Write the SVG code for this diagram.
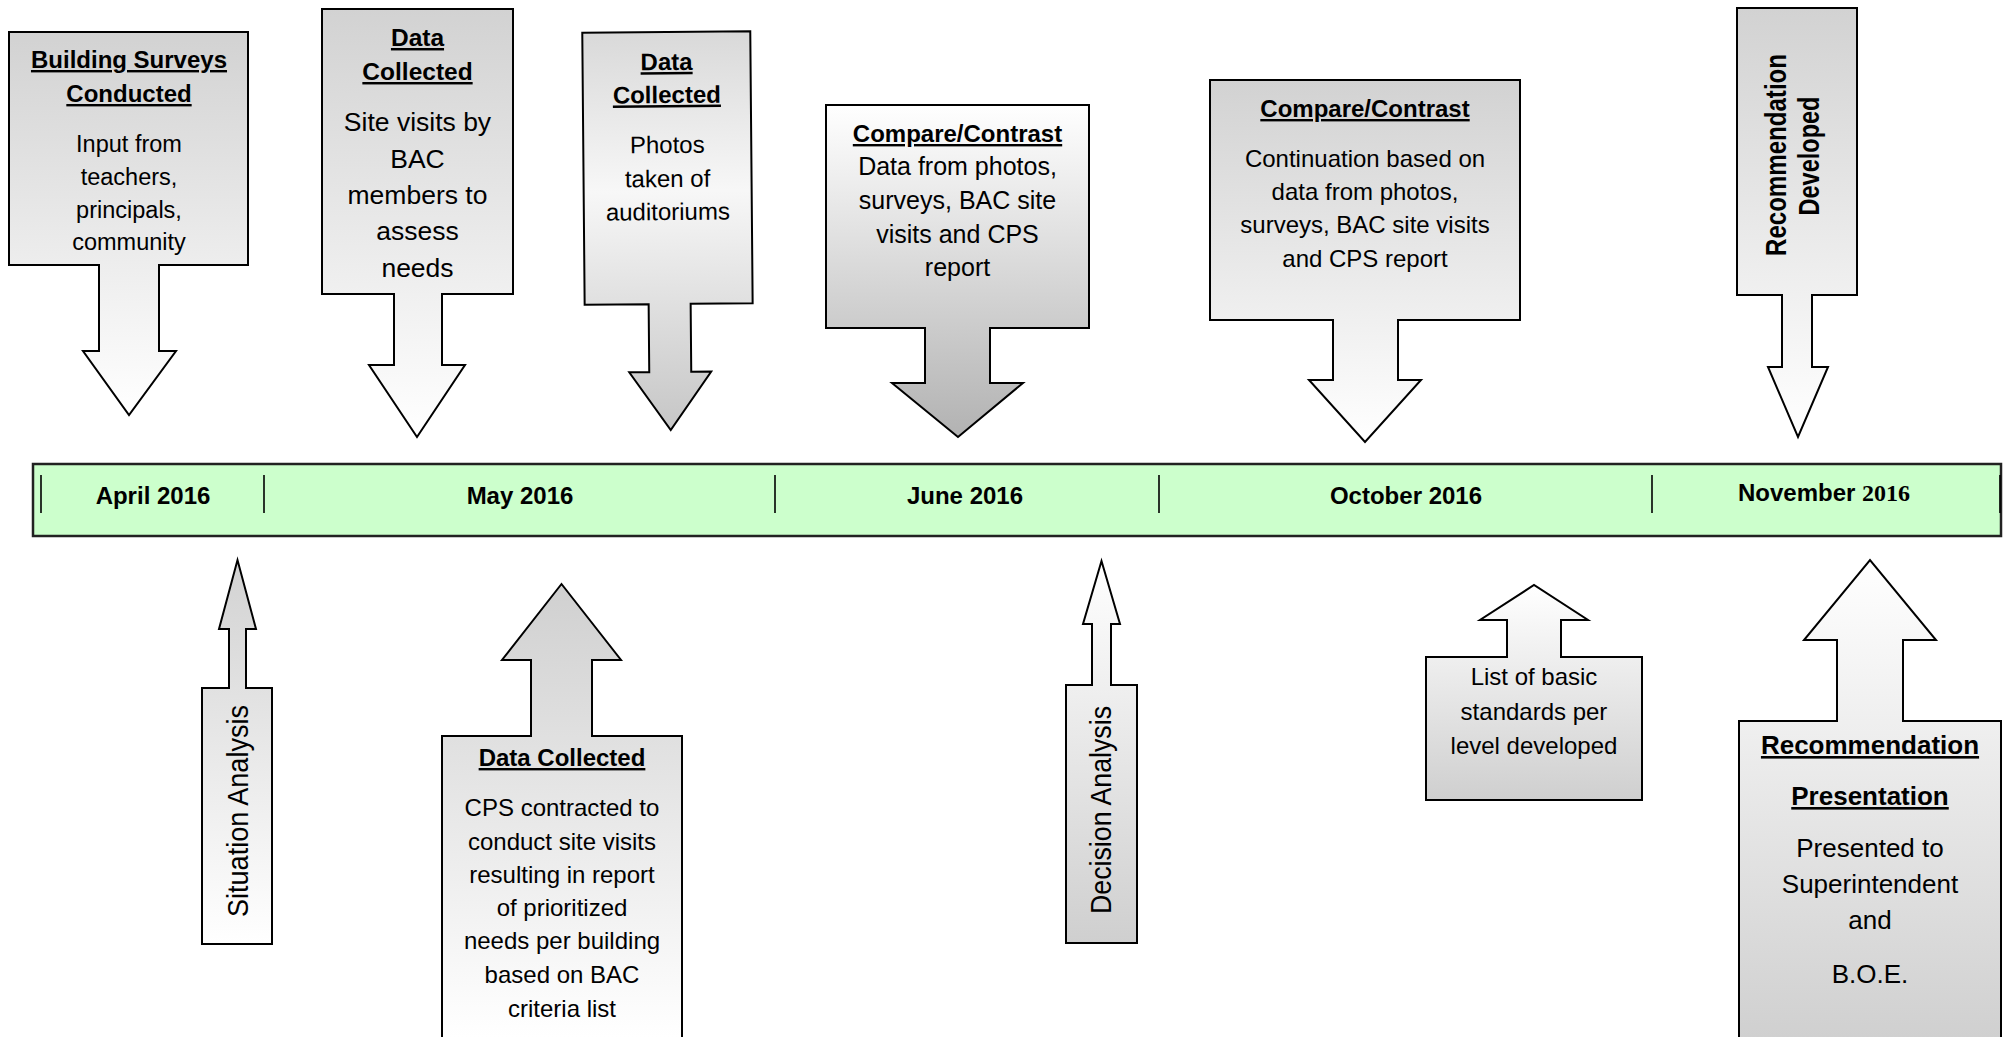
<svg xmlns="http://www.w3.org/2000/svg" width="2007" height="1037" viewBox="0 0 2007 1037">
<style>
.shape{stroke:#000;stroke-width:2;stroke-linejoin:miter}
.tx{font-family:"Liberation Sans",Arial,Helvetica,sans-serif;text-anchor:middle;fill:#000}
.t{font-weight:bold;text-decoration:underline}
.v{font-family:"Liberation Sans",Arial,Helvetica,sans-serif;text-anchor:middle;fill:#000}
.mon{font-family:"Liberation Sans",Arial,Helvetica,sans-serif;font-weight:bold;font-size:24px;text-anchor:middle;fill:#000}
.div{stroke:#000;stroke-width:1.6}
</style>
<defs>
<linearGradient id="gDown" x1="0" y1="0" x2="0" y2="1"><stop offset="0" stop-color="#d2d2d2"/><stop offset="1" stop-color="#ffffff"/></linearGradient>
<linearGradient id="gUp" x1="0" y1="0" x2="0" y2="1"><stop offset="0" stop-color="#ffffff"/><stop offset="1" stop-color="#cfcfcf"/></linearGradient>
<linearGradient id="gDark" x1="0" y1="0" x2="0" y2="1"><stop offset="0" stop-color="#ffffff"/><stop offset="1" stop-color="#b2b2b2"/></linearGradient>
<linearGradient id="gMid" x1="0" y1="0" x2="0" y2="1"><stop offset="0" stop-color="#d9d9d9"/><stop offset="0.4" stop-color="#f7f7f7"/><stop offset="1" stop-color="#c6c6c6"/></linearGradient>
<linearGradient id="gData2" gradientUnits="userSpaceOnUse" x1="0" y1="584" x2="0" y2="1037"><stop offset="0" stop-color="#d0d0d0"/><stop offset="1" stop-color="#ffffff"/></linearGradient>
<linearGradient id="gRec2" gradientUnits="userSpaceOnUse" x1="0" y1="560" x2="0" y2="1037"><stop offset="0" stop-color="#ffffff"/><stop offset="1" stop-color="#d0d0d0"/></linearGradient>
</defs>
<rect width="2007" height="1037" fill="#ffffff"/>
<g id="connectors"/>

<g id="timeline">
<rect x="33" y="464" width="1968" height="72" fill="#ccffcc" stroke="#222" stroke-width="2.5"/>
<line class="div" x1="41" y1="475" x2="41" y2="513"/>
<line class="div" x1="264" y1="475" x2="264" y2="513"/>
<line class="div" x1="775" y1="475" x2="775" y2="513"/>
<line class="div" x1="1159" y1="475" x2="1159" y2="513"/>
<line class="div" x1="1652" y1="475" x2="1652" y2="513"/>
<line class="div" x1="2000" y1="475" x2="2000" y2="513"/>
<text class="mon" x="153" y="504">April 2016</text>
<text class="mon" x="520" y="504">May 2016</text>
<text class="mon" x="965" y="504">June 2016</text>
<text class="mon" x="1406" y="504">October 2016</text>
<text class="mon" x="1824" y="501" font-size="25">November <tspan font-family="Liberation Serif,Times New Roman,serif">2016</tspan></text>
</g>

<g id="n-building-surveys">
<path class="shape" fill="url(#gDown)" d="M9,32 H248 V265 H159 V351 H176 L129,415 L83,351 H99 V265 H9 Z"/>
<text class="tx t" font-size="24"><tspan x="129" y="68">Building Surveys</tspan><tspan x="129" y="102">Conducted</tspan></text>
<text class="tx" font-size="23.5"><tspan x="129" y="152">Input from</tspan><tspan x="129" y="185">teachers,</tspan><tspan x="129" y="218">principals,</tspan><tspan x="129" y="250">community</tspan></text>
</g>

<g id="n-data-collected-site">
<path class="shape" fill="url(#gDown)" d="M322,9 H513 V294 H442 V365 H465 L417,437 L369,365 H394 V294 H322 Z"/>
<text class="tx t" font-size="24.5"><tspan x="417.5" y="46">Data</tspan><tspan x="417.5" y="80">Collected</tspan></text>
<text class="tx" font-size="26.5"><tspan x="417.5" y="131">Site visits by</tspan><tspan x="417.5" y="168">BAC</tspan><tspan x="417.5" y="204">members to</tspan><tspan x="417.5" y="240">assess</tspan><tspan x="417.5" y="277">needs</tspan></text>
</g>

<g id="n-data-collected-photos" transform="rotate(-0.5 668 230)">
<path class="shape" fill="url(#gMid)" d="M584,32 H752 V304 H690 V372 H710 L669,430 L628,372 H648 V304 H584 Z"/>
<text class="tx t" font-size="24"><tspan x="668" y="70">Data</tspan><tspan x="668" y="103">Collected</tspan></text>
<text class="tx" font-size="24"><tspan x="668" y="153">Photos</tspan><tspan x="668" y="187">taken of</tspan><tspan x="668" y="220">auditoriums</tspan></text>
</g>

<g id="n-compare-june">
<path class="shape" fill="url(#gDark)" d="M826,105 H1089 V328 H990 V383 H1023 L958,437 L892,383 H925 V328 H826 Z"/>
<text class="tx t" font-size="24" x="957.5" y="142">Compare/Contrast</text>
<text class="tx" font-size="25"><tspan x="957.5" y="175">Data from photos,</tspan><tspan x="957.5" y="209">surveys, BAC site</tspan><tspan x="957.5" y="243">visits and CPS</tspan><tspan x="957.5" y="276">report</tspan></text>
</g>

<g id="n-compare-october">
<path class="shape" fill="url(#gDown)" d="M1210,80 H1520 V320 H1398 V380 H1421 L1365,442 L1309,380 H1333 V320 H1210 Z"/>
<text class="tx t" font-size="24" x="1365" y="117">Compare/Contrast</text>
<text class="tx" font-size="24"><tspan x="1365" y="167">Continuation based on</tspan><tspan x="1365" y="200">data from photos,</tspan><tspan x="1365" y="233">surveys, BAC site visits</tspan><tspan x="1365" y="267">and CPS report</tspan></text>
</g>

<g id="n-recommendation-developed">
<path class="shape" fill="url(#gDown)" d="M1737,8 H1857 V295 H1812 V367 H1828 L1798,437 L1768,367 H1782 V295 H1737 Z"/>
<text class="v" font-size="29" font-weight="bold" transform="translate(1786 155) rotate(-90)" textLength="202" lengthAdjust="spacingAndGlyphs">Recommendation</text>
<text class="v" font-size="29" font-weight="bold" transform="translate(1819 156) rotate(-90)" textLength="119" lengthAdjust="spacingAndGlyphs">Developed</text>
</g>

<g id="n-situation-analysis">
<path class="shape" fill="url(#gDown)" d="M202,688 H229 V629 H219 L237.5,560 L256,629 H246 V688 H272 V944 H202 Z"/>
<text class="v" font-size="29" transform="translate(248 811) rotate(-90)" textLength="212" lengthAdjust="spacingAndGlyphs">Situation Analysis</text>
</g>

<g id="n-data-collected-cps">
<path class="shape" fill="url(#gData2)" d="M442,736 H531 V660 H502 L561.5,584 L621,660 H592 V736 H682 V1045 H442 Z"/>
<text class="tx t" font-size="24" x="562" y="766">Data Collected</text>
<text class="tx" font-size="24"><tspan x="562" y="816">CPS contracted to</tspan><tspan x="562" y="850">conduct site visits</tspan><tspan x="562" y="883">resulting in report</tspan><tspan x="562" y="916">of prioritized</tspan><tspan x="562" y="949">needs per building</tspan><tspan x="562" y="983">based on BAC</tspan><tspan x="562" y="1017">criteria list</tspan></text>
</g>

<g id="n-decision-analysis">
<path class="shape" fill="url(#gUp)" d="M1066,685 H1092 V624 H1083 L1101.5,561 L1120,624 H1111 V685 H1137 V943 H1066 Z"/>
<text class="v" font-size="29" transform="translate(1111 810) rotate(-90)" textLength="208" lengthAdjust="spacingAndGlyphs">Decision Analysis</text>
</g>

<g id="n-basic-standards">
<path class="shape" fill="url(#gUp)" d="M1426,657 H1507 V620 H1480 L1534,585 L1588,620 H1561 V657 H1642 V800 H1426 Z"/>
<text class="tx" font-size="24"><tspan x="1534" y="685">List of basic</tspan><tspan x="1534" y="720">standards per</tspan><tspan x="1534" y="754">level developed</tspan></text>
</g>

<g id="n-recommendation-presentation">
<path class="shape" fill="url(#gRec2)" d="M1739,721 H1837 V640 H1804 L1870,560 L1936,640 H1903 V721 H2001 V1045 H1739 Z"/>
<text class="tx t" font-size="26"><tspan x="1870" y="754">Recommendation</tspan><tspan x="1870" y="805">Presentation</tspan></text>
<text class="tx" font-size="26"><tspan x="1870" y="857">Presented to</tspan><tspan x="1870" y="893">Superintendent</tspan><tspan x="1870" y="929">and</tspan><tspan x="1870" y="983">B.O.E.</tspan></text>
</g>
</svg>
